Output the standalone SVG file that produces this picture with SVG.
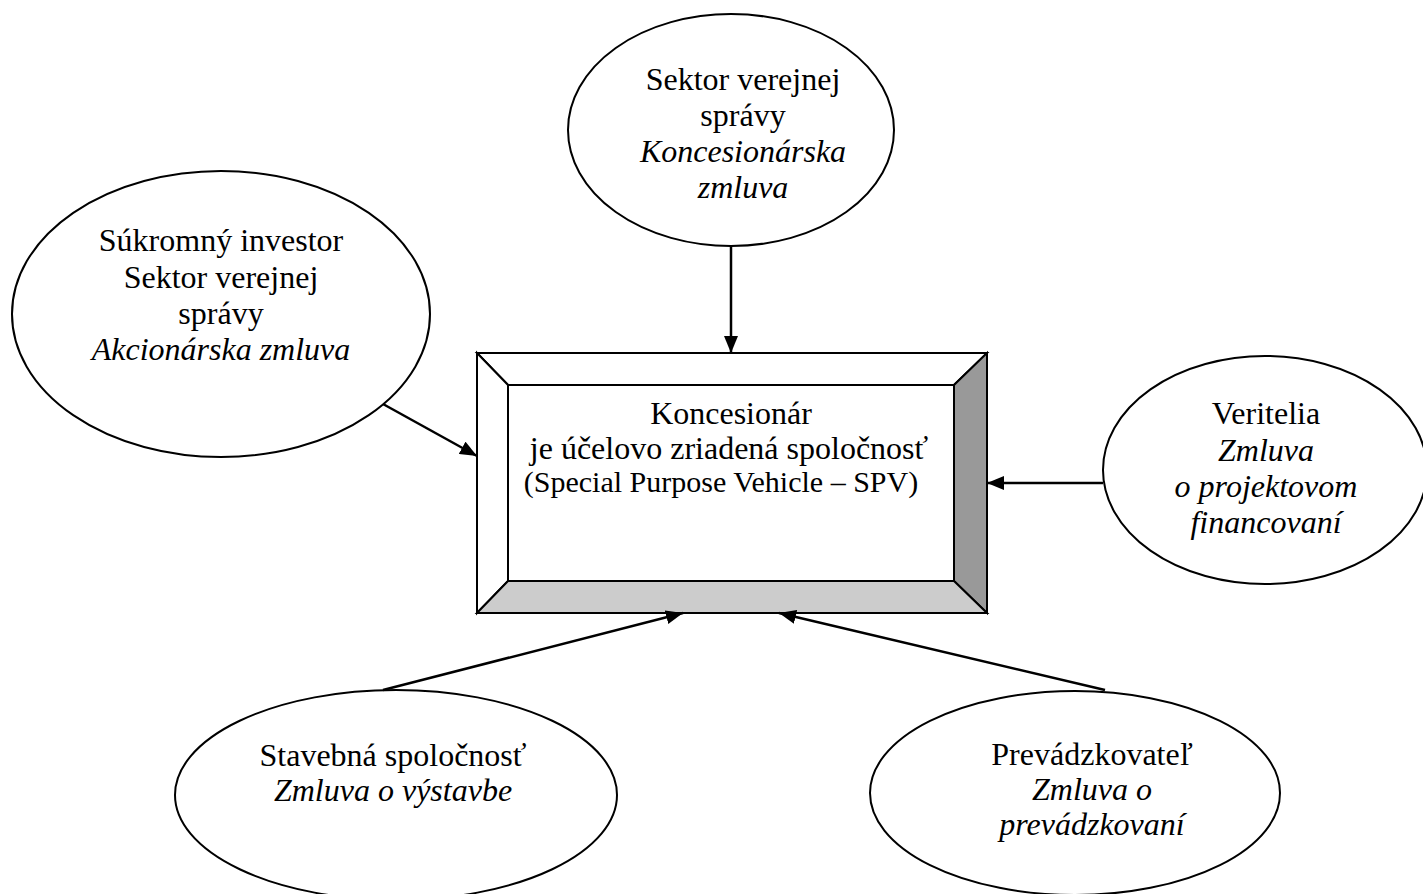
<svg xmlns="http://www.w3.org/2000/svg" width="1423" height="894" viewBox="0 0 1423 894">
<defs>
<style>
text{font-family:"Liberation Serif","Times New Roman",serif;font-size:32px;fill:#000;text-anchor:middle}
.it{font-style:italic}
.node ellipse{fill:#fff;stroke:#000;stroke-width:2}
.bev{stroke:#000;stroke-width:2;stroke-linejoin:miter}
.conn line{stroke:#000;stroke-width:2.5;fill:none}
</style>
<marker id="ah" markerUnits="userSpaceOnUse" markerWidth="18" markerHeight="14" refX="17" refY="7" orient="auto">
<path d="M0,0 L17,7 L0,14 z" fill="#000"/>
</marker>
</defs>
<rect width="1423" height="894" fill="#fff"/>

<g id="spv">
<polygon class="bev" points="477,353 987,353 954,385 508,385" fill="#fff"/>
<polygon class="bev" points="477,353 508,385 508,581 477,613" fill="#fff"/>
<polygon class="bev" points="987,353 987,613 954,581 954,385" fill="#999"/>
<polygon class="bev" points="477,613 508,581 954,581 987,613" fill="#ccc"/>
<rect class="bev" x="508" y="385" width="446" height="196" fill="#fff"/>
<text x="731" y="424">Koncesionár</text>
<text x="729" y="459">je účelovo zriadená spoločnosť</text>
<text x="721" y="492" style="font-size:30px">(Special Purpose Vehicle – SPV)</text>
</g>

<g id="sektor" class="node">
<ellipse cx="731" cy="130" rx="163" ry="116"/>
<text x="743" y="90">Sektor verejnej</text>
<text x="743" y="126">správy</text>
<text x="743" y="162" class="it">Koncesionárska</text>
<text x="743" y="198" class="it">zmluva</text>
</g>

<g id="investor" class="node">
<ellipse cx="221" cy="314" rx="209" ry="143"/>
<text x="221" y="251">Súkromný investor</text>
<text x="221" y="288">Sektor verejnej</text>
<text x="221" y="324">správy</text>
<text x="221" y="360" class="it">Akcionárska zmluva</text>
</g>

<g id="veritelia" class="node">
<ellipse cx="1265" cy="470" rx="162" ry="114"/>
<text x="1266" y="424">Veritelia</text>
<text x="1266" y="461" class="it">Zmluva</text>
<text x="1266" y="497" class="it">o projektovom</text>
<text x="1266" y="533" class="it">financovaní</text>
</g>

<g id="stavebna" class="node">
<ellipse cx="396" cy="795" rx="221" ry="105"/>
<text x="393" y="766">Stavebná spoločnosť</text>
<text x="393" y="801" class="it">Zmluva o výstavbe</text>
</g>

<g id="prevadzkovatel" class="node">
<ellipse cx="1075" cy="793" rx="205" ry="102"/>
<text x="1092" y="765">Prevádzkovateľ</text>
<text x="1092" y="800" class="it">Zmluva o</text>
<text x="1092" y="835" class="it">prevádzkovaní</text>
</g>

<g id="connectors" class="conn">
<line x1="731" y1="246" x2="731" y2="353" marker-end="url(#ah)"/>
<line x1="383" y1="404" x2="477" y2="456" marker-end="url(#ah)"/>
<line x1="1103" y1="483" x2="987" y2="483" marker-end="url(#ah)"/>
<line x1="383" y1="690" x2="683" y2="613" marker-end="url(#ah)"/>
<line x1="1105" y1="690" x2="779" y2="613" marker-end="url(#ah)"/>
</g>
</svg>
